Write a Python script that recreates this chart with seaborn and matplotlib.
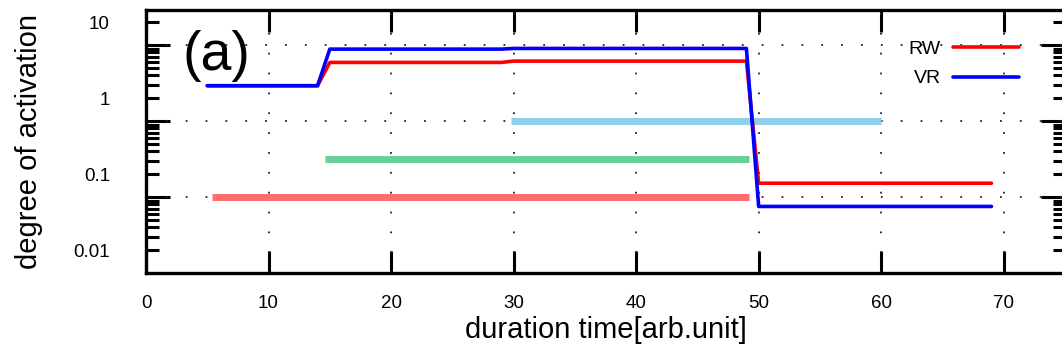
import numpy as np
import pandas as pd
import matplotlib
matplotlib.use("Agg")
import matplotlib.pyplot as plt
import matplotlib.ticker as mticker
import seaborn as sns

# ---- data ----
time = [5, 14, 15, 29, 30, 49, 50, 69]
rw = [1.46, 1.46, 2.96, 2.96, 3.08, 3.08, 0.076, 0.076]
vr = [1.46, 1.46, 4.43, 4.43, 4.52, 4.52, 0.0376, 0.0376]

stim_names = ["stim1", "stim2", "stim3"]
stim_start = [5.4, 14.6, 29.8]
stim_end = [49.2, 49.2, 60.0]
stim_level = [0.05, 0.158, 0.5]
stim_colors = ["#ff6e6e", "#6acf99", "#8fcfea"]

xticks = [0, 10, 20, 30, 40, 50, 60, 70]
ytick_labels = {10: "10", 1: "1", 0.1: "0.1", 0.01: "0.01"}
ygrid = [0.05, 0.5, 5]

sns.set_style("white")
plt.rcParams["font.family"] = ["Liberation Sans", "DejaVu Sans"]
plt.rcParams.update({"text.color": "black", "axes.labelcolor": "black",
                     "xtick.color": "black", "ytick.color": "black"})

fig = plt.figure(figsize=(10.62, 3.54), dpi=100)
ax = fig.add_axes([146 / 1062, 1 - 273 / 354, (1065 - 146) / 1062, (273 - 10) / 354])

# stimulus bars
for s, e, lv, c in zip(stim_start, stim_end, stim_level, stim_colors):
    sdf = pd.DataFrame({"x": [s, e], "y": [lv, lv]})
    sns.lineplot(data=sdf, x="x", y="y", ax=ax, color=c, linewidth=5.0,
                 estimator=None, solid_capstyle="butt", zorder=2)

df = pd.DataFrame({
    "time": time * 2,
    "value": rw + vr,
    "model": ["RW"] * len(time) + ["VR"] * len(time),
})
sns.lineplot(data=df, x="time", y="value", hue="model", ax=ax,
             palette={"RW": "#ff0000", "VR": "#0000ff"}, linewidth=2.6,
             estimator=None, sort=False, zorder=3)

ax.set_yscale("log")
ax.set_xlim(0, 75)
ax.set_ylim(0.005, 14.5)

# grid
for g in ygrid:
    ax.axhline(g, color="#222222", linestyle=(0, (1, 10)), linewidth=1.3, zorder=1)
for xv in xticks[1:]:
    ax.axvline(xv, color="#222222", linestyle=(0, (1, 10)), linewidth=1.3, zorder=1)

# x ticks
ax.xaxis.set_major_locator(mticker.FixedLocator(xticks))
ax.set_xticklabels([str(v) for v in xticks])
ax.tick_params(axis="x", which="major", direction="in", length=16, width=2.2,
               top=True, bottom=True, labelsize=13.5, pad=16)

# y ticks: long unlabeled major at grid values, labeled minor ticks
minor_vals = []
for dec in [0.001, 0.01, 0.1, 1.0, 10.0]:
    for k in [1, 1.5, 2, 2.5, 3, 3.5, 4, 4.5]:
        minor_vals.append(k * dec)
minor_vals = [v for v in minor_vals if 0.005 <= v <= 14.5]
ax.yaxis.set_major_locator(mticker.FixedLocator(ygrid))
ax.yaxis.set_major_formatter(mticker.NullFormatter())
ax.yaxis.set_minor_locator(mticker.FixedLocator(minor_vals))

def fmt(v, pos):
    for key, lab in ytick_labels.items():
        if abs(v - key) / key < 1e-6:
            return lab
    return ""

ax.yaxis.set_minor_formatter(mticker.FuncFormatter(fmt))
ax.tick_params(axis="y", which="major", direction="in", length=17, width=2.2,
               left=True, right=True)
ax.tick_params(axis="y", which="minor", direction="in", length=9, width=2.2,
               left=True, right=True, labelsize=13.5, pad=26)

for sp in ax.spines.values():
    sp.set_linewidth(2.4)
    sp.set_color("black")

ax.set_xlabel("duration time[arb.unit]", fontsize=21, labelpad=3)
ax.set_ylabel("degree of activation", fontsize=21, labelpad=22)

ax.text(3.0, 3.6, "(a)", fontsize=40, va="center", ha="left")

handles, labels = ax.get_legend_handles_labels()
hl = [(h, l) for h, l in zip(handles, labels) if l in ("RW", "VR")]
leg = ax.legend([h for h, _ in hl], [l for _, l in hl], loc="upper right",
                bbox_to_anchor=(0.958, 0.915), frameon=False, markerfirst=False,
                fontsize=14, handlelength=3.4, handletextpad=0.6, labelspacing=0.62,
                borderaxespad=0.0)

fig.savefig("out.png", dpi=100)
